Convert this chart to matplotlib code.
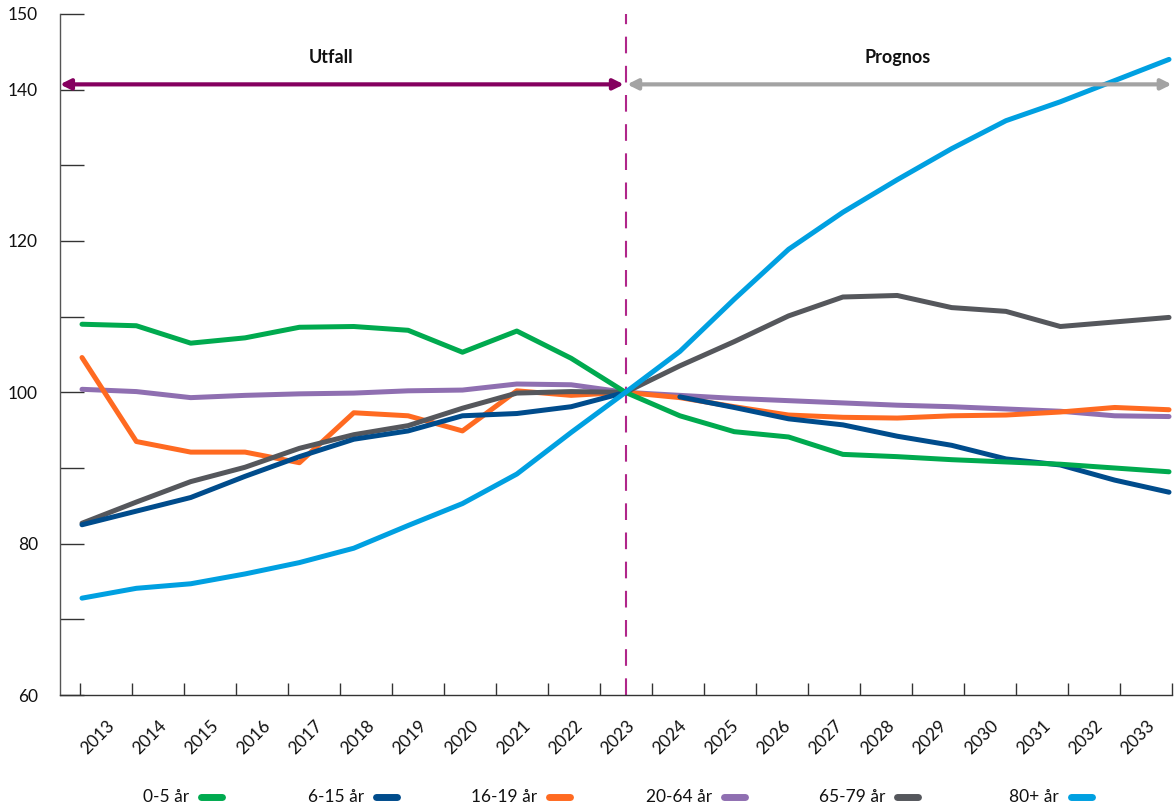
import numpy as np
import matplotlib
matplotlib.use("Agg")
import matplotlib.pyplot as plt
from matplotlib.lines import Line2D
from matplotlib.transforms import ScaledTranslation

plt.rcParams['font.family'] = ['Lato', 'DejaVu Sans']

# Indeks, 2023 = 100
years = list(range(2013, 2034))
age_0_5 = [109.0, 108.8, 106.5, 107.2, 108.6, 108.7, 108.2, 105.3, 108.1, 104.5, 100.0,
           96.9, 94.8, 94.1, 91.8, 91.5, 91.1, 90.8, 90.5, 90.0, 89.5]
age_6_15 = [82.5, 84.3, 86.1, 88.9, 91.5, 93.8, 94.9, 96.9, 97.2, 98.1, 100.0,
            99.4, 98.0, 96.5, 95.7, 94.2, 93.0, 91.2, 90.4, 88.4, 86.8]
age_16_19 = [104.6, 93.5, 92.1, 92.1, 90.7, 97.3, 96.9, 94.9, 100.2, 99.6, 100.0,
             99.3, 98.1, 97.0, 96.7, 96.6, 96.9, 97.0, 97.4, 98.0, 97.7]
age_20_64 = [100.4, 100.1, 99.3, 99.6, 99.8, 99.9, 100.2, 100.3, 101.1, 101.0, 100.0,
             99.6, 99.2, 98.9, 98.6, 98.3, 98.1, 97.8, 97.5, 96.9, 96.8]
age_65_79 = [82.7, 85.5, 88.2, 90.1, 92.6, 94.4, 95.6, 97.9, 99.9, 100.1, 100.0,
             103.5, 106.7, 110.1, 112.6, 112.8, 111.2, 110.7, 108.7, 109.3, 109.9]
age_80 = [72.8, 74.1, 74.7, 76.0, 77.5, 79.4, 82.4, 85.3, 89.2, 94.7, 100.0,
          105.4, 112.3, 118.9, 123.8, 128.1, 132.2, 135.9, 138.4, 141.2, 144.0]

labels = ['0-5 år', '6-15 år', '16-19 år', '20-64 år', '65-79 år', '80+ år']
colors = ['#00AA4F', '#004C8C', '#FF6A21', '#8F6FB1', '#55575C', '#00A0E1']
series = [age_0_5, age_6_15, age_16_19, age_20_64, age_65_79, age_80]

last_actual = 2023
y_ticks = [60, 70, 80, 90, 100, 110, 120, 130, 140, 150]
y_labels = ['60', '', '80', '', '100', '', '120', '', '140', '150']

fig = plt.figure(figsize=(11.76, 8.07), dpi=100)
ax = fig.add_axes([60 / 1176, 1 - 695 / 807, 1112 / 1176, 681 / 807])

x = np.arange(len(years))
split = years.index(last_actual) + 1

# drawing order as in the original
order = [3, 2, 4, 1, 0, 5]
for i in order:
    vals = series[i]
    if labels[i] == '6-15 år':
        # forecast series starts first forecast year
        ax.plot(x[:split], vals[:split], color=colors[i], lw=3.6,
                solid_capstyle='round', solid_joinstyle='round', zorder=3)
        ax.plot(x[split:], vals[split:], color=colors[i], lw=3.6,
                solid_capstyle='round', solid_joinstyle='round', zorder=3)
    else:
        ax.plot(x, vals, color=colors[i], lw=3.6,
                solid_capstyle='round', solid_joinstyle='round', zorder=3)

# split line between actual and forecast
xs = years.index(last_actual)
ax.axvline(xs, color='#B0268A', lw=1.5, dashes=(8, 6), zorder=2)

# period arrows
arrow_y = 140.7
ax.annotate('', xy=(xs - 0.03, arrow_y), xytext=(-0.405, arrow_y),
            arrowprops=dict(arrowstyle='<|-|>', color='#85005F', lw=3,
                            mutation_scale=15, shrinkA=0, shrinkB=0),
            annotation_clip=False, zorder=4)
ax.annotate('', xy=(20.05, arrow_y), xytext=(xs + 0.03, arrow_y),
            arrowprops=dict(arrowstyle='<|-|>', color='#A3A3A3', lw=3,
                            mutation_scale=15, shrinkA=0, shrinkB=0),
            annotation_clip=False, zorder=4)
ax.text(4.58, 144.3, 'Utfall', ha='center', va='center', fontsize=13,
        fontweight='bold', color='#111111')
ax.text(15.01, 144.3, 'Prognos', ha='center', va='center', fontsize=13,
        fontweight='bold', color='#111111')

ax.set_xlim(-0.405, 20.055)
ax.set_ylim(60, 150)
ax.set_yticks(y_ticks)
ax.set_yticklabels(y_labels)

# the year ticks in the original sit on their own even grid (one extra at the end)
tick_pos = np.linspace(-0.037, 20.055, len(years) + 1)
ax.set_xticks(tick_pos)
ax.set_xticklabels([str(y) for y in years] + [''])

for side in ['top', 'right']:
    ax.spines[side].set_visible(False)
ax.spines['left'].set_color('#555555')
ax.spines['bottom'].set_color('#333333')
ax.spines['left'].set_linewidth(1)
ax.spines['bottom'].set_linewidth(1)

ax.tick_params(axis='y', direction='in', length=17, width=1, color='#333333',
               labelsize=12.5, pad=16, labelcolor='#111111')
ax.tick_params(axis='x', direction='in', length=9, width=1, color='#333333',
               labelsize=12.5, pad=16, labelcolor='#111111')
offset = ScaledTranslation(0.26, 0, fig.dpi_scale_trans)
for lab in ax.get_xticklabels():
    lab.set_rotation(45)
    lab.set_ha('right')
    lab.set_va('top')
    lab.set_rotation_mode('anchor')
    lab.set_transform(lab.get_transform() + offset)

# legend: label text followed by a short swatch
swatch_end = [222, 397, 570, 745, 918, 1092]
leg_y = 1 - 797 / 807
for lab, col, xe in zip(labels, colors, swatch_end):
    x1 = xe / 1176
    x0 = (xe - 21) / 1176
    fig.add_artist(Line2D([x0, x1], [leg_y, leg_y], color=col, lw=5,
                          solid_capstyle='round', transform=fig.transFigure))
    fig.text(x0 - 12 / 1176, leg_y, lab, ha='right', va='center',
             fontsize=12.5, color='#111111')

fig.savefig('out.png', dpi=100)
